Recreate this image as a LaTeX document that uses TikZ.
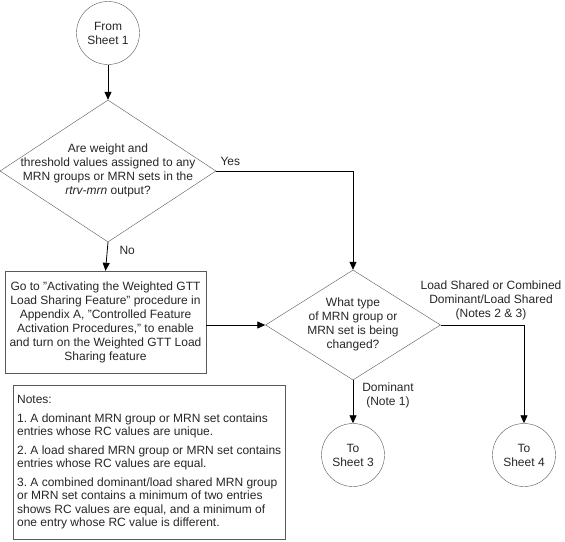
\documentclass[tikz,border=0pt]{standalone}
\usepackage{fontspec}
\setmainfont{Liberation Sans}
\usetikzlibrary{shapes.geometric,arrows.meta,positioning}
\definecolor{linegray}{gray}{0.35}
\definecolor{txtgray}{gray}{0.15}
\frenchspacing
\tikzset{
  sheet/.style={circle, draw=linegray, minimum size=63pt, inner sep=0pt, align=center},
  decision/.style={diamond, draw=linegray, inner sep=0pt},
  flow/.style={line width=0.8pt, -{Triangle[length=8pt,width=7pt]}},
}
\begin{document}
\begin{tikzpicture}[x=1pt, y=-1pt, font=\fontsize{12}{14}\selectfont, text=txtgray]
      \useasboundingbox (0,0) rectangle (565,541);
      % start of sheet 2
      \node[sheet] (from) at (108,33) {From\\Sheet 1};
      % first question
      \node[decision, minimum width=216pt, minimum height=142pt] (ask) at (108,171) {};
      \node[align=center] (asktxt) at (108,170) {Are weight and\\threshold values assigned to any\\MRN groups or MRN sets in the\\\textit{rtrv-mrn} output?};
      % feature activation box
      \node[draw=linegray, minimum width=201pt, minimum height=102pt, align=center] (activate) at (105.5,322)
        {Go to "Activating the Weighted GTT\\Load Sharing Feature" procedure in\\Appendix A, "Controlled Feature\\Activation Procedures," to enable\\and turn on the Weighted GTT Load\\Sharing feature};
      % second question
      \node[decision, minimum width=175pt, minimum height=110pt] (type) at (353,325) {};
      \node[align=center] (typetxt) at (353,324.5) {What type\\of MRN group or\\MRN set is being\\changed?};
      % off-page connectors
      \foreach \n/\x in {3/353, 4/524} {
          \node[sheet] (to\n) at (\x,455) {To\\Sheet \n};
        }
      % notes
      \node[draw=linegray, anchor=north west, minimum width=272pt, minimum height=154pt, align=left,
            font=\fontsize{12}{13.5}\selectfont] (notes) at (13,385)
        {Notes:\\[5pt]
         1. A dominant MRN group or MRN set contains\\entries whose RC values are unique.\\[5pt]
         2. A load shared MRN group or MRN set contains\\entries whose RC values are equal.\\[5pt]
         3. A combined dominant/load shared MRN group\\or MRN set contains a minimum of two entries\\shows RC values are equal, and a minimum of\\one entry whose RC value is different.};
      % connectors
      \draw[flow] (from) -- (ask.north);
      \draw[flow] (ask.south) -- (activate.north);
      \draw[flow] (ask.east) -| (type.north);
      \draw[flow] (activate.east |- type.west) -- (type.west);
      \draw[flow] (type.south) -- (to3.north);
      \draw[flow] (type.east) -| (to4.north);
      % branch labels
      \node[anchor=west] (yes) at (217,161) {Yes};
      \node[anchor=west] (no) at (116,250) {No};
      \node[align=center] (shared) at (491,300) {Load Shared or Combined\\Dominant/Load Shared\\(Notes 2 \& 3)};
      \node[align=center] (dom) at (388,395) {Dominant\\(Note 1)};
    \end{tikzpicture}
\end{document}
